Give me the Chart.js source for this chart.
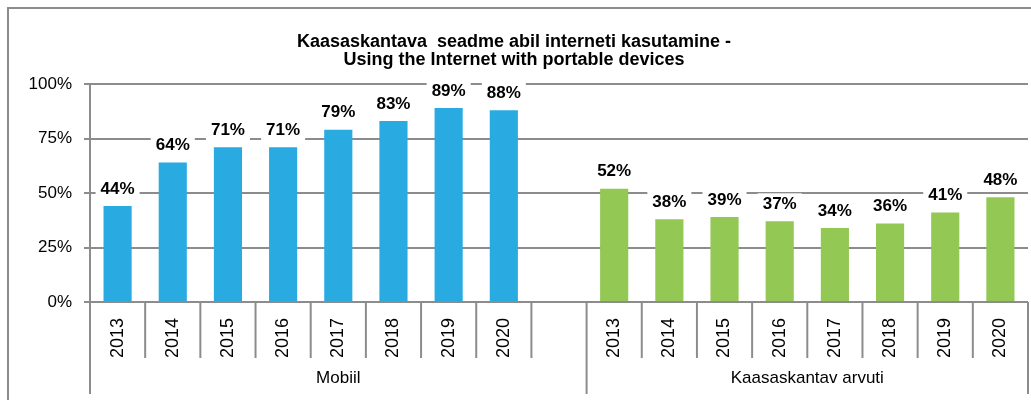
<!DOCTYPE html>
<html>
<head>
<meta charset="utf-8">
<script src="https://cdn.jsdelivr.net/npm/chart.js@4.4.0/dist/chart.umd.min.js"></script>
<style>
  body { margin: 0; background: #fff; }
  #wrap { position: relative; width: 1031px; height: 400px; overflow: hidden; }
  #frame { position: absolute; left: 7px; top: 7px; width: 1040px; height: 420px; border: 2px solid #8c8c8c; pointer-events: none; }
  canvas { position: absolute; left: 0; top: 0; }
</style>
</head>
<body>
<div id="wrap">
  <canvas id="chart" width="1031" height="400"></canvas>
  <div id="frame"></div>
</div>
<script>
// andmed
const years = ['2013', '2014', '2015', '2016', '2017', '2018', '2019', '2020'];
const mobiilValues = [44, 64, 71, 71, 79, 83, 89, 88];
const arvutiValues = [52, 38, 39, 37, 34, 36, 41, 48];
const groupLabels = ['Mobiil', 'Kaasaskantav arvuti'];
const groupSizes = [9, 8];   // Mobiil grupis on ka tühi vahe-kategooria
const yTicks = [0, 25, 50, 75, 100];
const titleLines = ['Kaasaskantava  seadme abil interneti kasutamine -', 'Using the Internet with portable devices'];

const labels = years.concat([''], years);
const mobiilData = mobiilValues.concat([null], years.map(() => null));
const arvutiData = years.map(() => null).concat([null], arvutiValues);

const gridColor = '#8c8c8c';
const font = 'Arial, "Liberation Sans", sans-serif';

// väärtuste sildid valge taustaga
const valueLabels = {
    id: 'valueLabels',
    afterDatasetsDraw(chart) {
        const ctx = chart.ctx;
        ctx.save();
        ctx.font = 'bold 17px ' + font;
        ctx.textAlign = 'center';
        ctx.textBaseline = 'middle';
        chart.data.datasets.forEach((ds, di) => {
            chart.getDatasetMeta(di).data.forEach((bar, i) => {
                const v = ds.data[i];
                if (v === null) return;
                const txt = v + '%';
                const w = ctx.measureText(txt).width + 10;
                const y = bar.y - 17;
                ctx.fillStyle = '#fff';
                ctx.fillRect(bar.x - w / 2, y - 11, w, 22);
                ctx.fillStyle = '#000';
                ctx.fillText(txt, bar.x, y);
            });
        });
        ctx.restore();
    }
};

// mitmetasandiline x-telg: jaotusjooned ja grupinimed
const groupAxis = {
    id: 'groupAxis',
    afterDraw(chart) {
        const ctx = chart.ctx;
        const x = chart.scales.x;
        const area = chart.chartArea;
        const step = x.width / labels.length;
        const bounds = [0];
        groupSizes.forEach(s => bounds.push(bounds[bounds.length - 1] + s));
        ctx.save();
        ctx.strokeStyle = gridColor;
        ctx.lineWidth = 2;
        for (let i = 0; i <= labels.length; i++) {
            const px = x.getPixelForValue(0) - step / 2 + i * step;
            const long = bounds.includes(i);
            ctx.beginPath();
            ctx.moveTo(px, area.bottom);
            ctx.lineTo(px, area.bottom + (long ? 92 : 56));
            ctx.stroke();
        }
        ctx.fillStyle = '#000';
        ctx.font = '17px ' + font;
        ctx.textAlign = 'center';
        ctx.textBaseline = 'middle';
        groupLabels.forEach((g, gi) => {
            const a = x.getPixelForValue(0) - step / 2 + bounds[gi] * step;
            const b = x.getPixelForValue(0) - step / 2 + bounds[gi + 1] * step;
            ctx.fillText(g, (a + b) / 2, area.bottom + 76);
        });
        ctx.restore();
    }
};

new Chart(document.getElementById('chart').getContext('2d'), {
    type: 'bar',
    data: {
        labels: labels,
        datasets: [
            { label: 'Mobiil', data: mobiilData, backgroundColor: '#29abe2' },
            { label: 'Kaasaskantav arvuti', data: arvutiData, backgroundColor: '#92c853' }
        ]
    },
    options: {
        responsive: false,
        animation: false,
        layout: { padding: { left: 0, right: 3, top: 0, bottom: 0 } },
        datasets: { bar: { grouped: false, categoryPercentage: 1, barPercentage: 0.51 } },
        plugins: {
            legend: { display: false },
            tooltip: { enabled: false },
            title: {
                display: true,
                text: titleLines,
                color: '#000',
                font: { family: font, size: 18, weight: 'bold', lineHeight: 1 },
                padding: { top: 33, bottom: 15 }
            }
        },
        scales: {
            x: {
                grid: { display: false },
                border: { display: false },
                ticks: {
                    color: '#000',
                    font: { family: font, size: 18 },
                    minRotation: 90,
                    maxRotation: 90,
                    padding: 8,
                    autoSkip: false
                },
                afterFit(scale) { scale.height = 98; }
            },
            y: {
                min: 0,
                max: 100,
                afterBuildTicks(scale) { scale.ticks = yTicks.map(v => ({ value: v })); },
                ticks: {
                    color: '#000',
                    font: { family: font, size: 17 },
                    padding: 12,
                    callback: v => v + '%'
                },
                grid: { color: gridColor, lineWidth: 2, tickLength: 6 },
                border: { display: true, color: gridColor, width: 2 },
                afterFit(scale) { scale.width = 90; }
            }
        }
    },
    plugins: [valueLabels, groupAxis]
});
</script>
</body>
</html>
